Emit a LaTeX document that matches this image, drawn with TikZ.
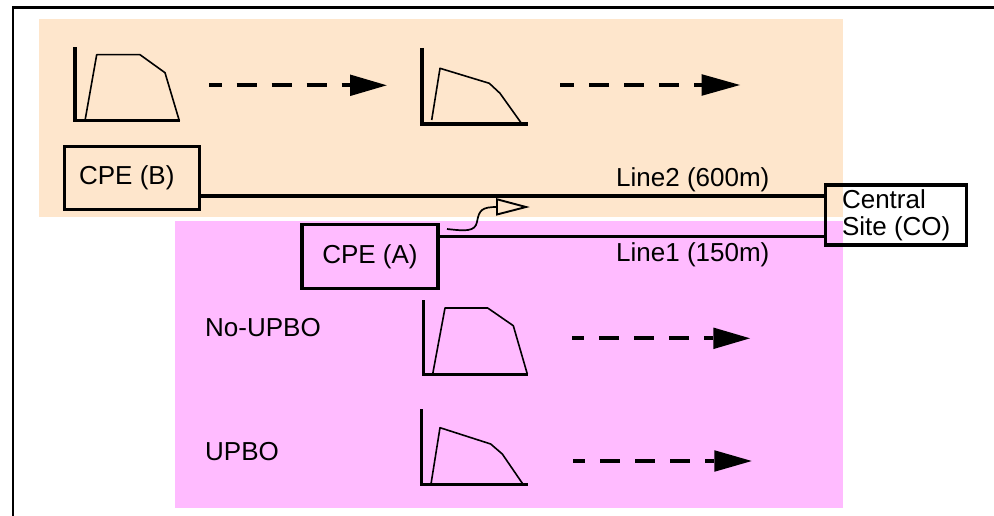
\documentclass[tikz,border=0pt]{standalone}
\usepackage{fontspec}
\setmainfont{Liberation Sans}
\definecolor{peach}{RGB}{254,230,204}
\definecolor{pinkbg}{RGB}{255,187,255}
\begin{document}
\begin{tikzpicture}[x=1pt,y=-1pt,
  box/.style={draw=black, line width=3.3pt, inner sep=0pt, font=\fontsize{26}{27}\selectfont},
  lbl/.style={anchor=base west, inner sep=0pt, font=\fontsize{26}{27}\selectfont},
  axis/.style={line width=3.6pt},
  curve/.style={line width=1.6pt, line join=round},
  dasharr/.style={line width=3.8pt, dash pattern=on 20pt off 15pt},
  wire/.style={line width=3.2pt}]
\useasboundingbox (0,0) rectangle (994,516);
% backgrounds
\fill[peach] (39,19) rectangle (843,217);
\fill[pinkbg] (175,221) rectangle (843,508);
% frame
\draw[line width=2.6pt] (13,530) -- (13,7.7) -- (1010,7.7);
% spectra
\draw[axis] (75,47.3) -- (75,120.7) -- (180,120.7);
\draw[curve] (85,120.7) -- (96.7,54.7) -- (140,54.7) -- (165,72.7) -- (179.3,120.7);
\draw[axis] (421.7,48) -- (421.7,124) -- (527.7,124);
\draw[curve] (431.7,120) -- (440,68.3) -- (489.3,83.3) -- (500,93.3) -- (521,122.7);
\draw[axis] (423.3,300) -- (423.3,374.3) -- (528.3,374.3);
\draw[curve] (432.7,374) -- (445,308) -- (487.7,308) -- (513.3,325.7) -- (527.3,374);
\draw[axis] (421.3,409) -- (421.3,484.3) -- (527.7,484.3);
\draw[curve] (431,484) -- (440,427.7) -- (490.7,444) -- (502.3,454) -- (523.3,484.7);
% dashed arrows
\foreach \s/\b/\t/\y/\p in {209.3/350/386.7/85.3/7.7, 560/701.7/740/85/6, 572.3/713.3/750/338.3/8.3, 573.3/714.3/751.7/461/8}{
  \draw[dasharr, dash phase=\p pt] (\s,\y) -- (\b,\y);
  \fill (\b,\y-10.8) -- (\t,\y) -- (\b,\y+10.8) -- cycle;
}
% boxes
\node[box, minimum width=135pt, minimum height=63pt] (CPEB) at (132.3,177.8) {CPE (B)\hspace*{11pt}};
\node[box, minimum width=136pt, minimum height=63.6pt] (CPEA) at (370,256.5) {CPE (A)};
\node[box, minimum width=141pt, minimum height=60pt, align=left] (CO) at (896.2,215) {Central\\Site (CO)};
% wires
\coordinate (y2) at (0,196);
\coordinate (y1) at (0,236.5);
\draw[wire] (CPEB.east |- y2) -- (CO.west |- y2);
\draw[wire] (CPEA.east |- y1) -- (CO.west |- y1);
% squiggle arrow
\draw[line width=1.7pt] (447,229) .. controls (465,231) and (475,232) .. (477,222) .. controls (479,210) and (482,207) .. (497,207);
\draw[line width=1.9pt, line join=miter] (497,199.3) -- (526,207) -- (497,214.5) -- cycle;
% labels
\node[lbl] (l2) at (616,186.7) {Line2 (600m)};
\node[lbl] (l1) at (616,261.7) {Line1 (150m)};
\node[lbl] (nu) at (205,336.7) {No-UPBO};
\node[lbl] (up) at (205,460) {UPBO};
\end{tikzpicture}
\end{document}
